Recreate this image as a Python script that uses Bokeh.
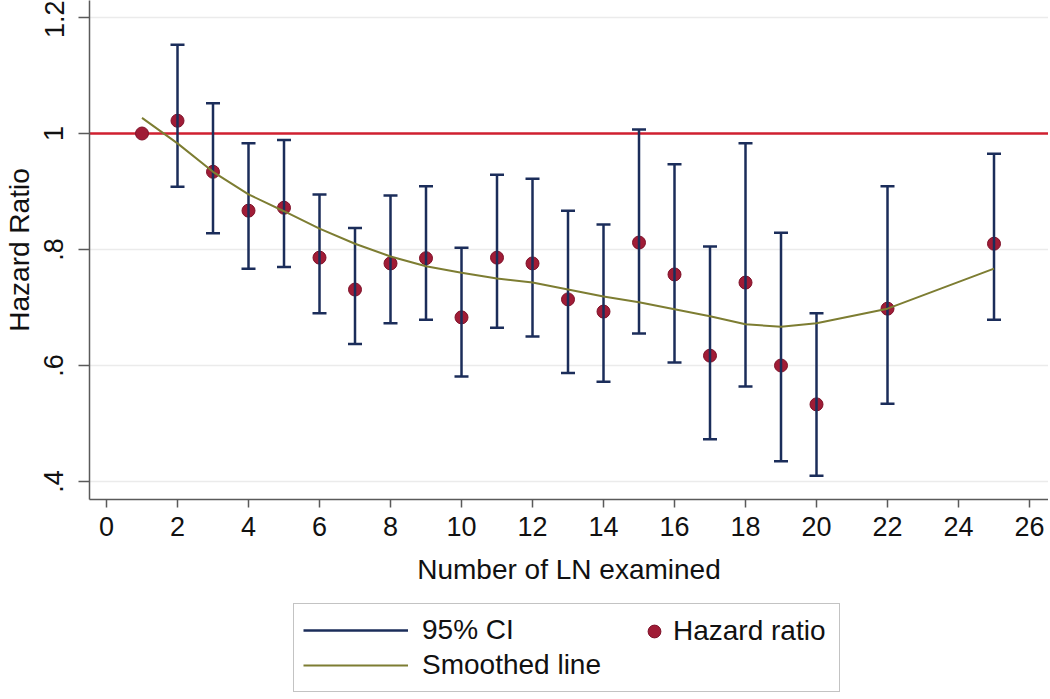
import math
from bokeh.plotting import figure
from bokeh.layouts import column
from bokeh.models import (ColumnDataSource, Legend, LegendItem, FixedTicker,
                          Span, Range1d)
from bokeh.embed import file_html
from bokeh.resources import INLINE

# ---- data ----
ln_examined = [1, 2, 3, 4, 5, 6, 7, 8, 9, 10, 11, 12, 13, 14, 15, 16, 17, 18, 19, 20, 22, 25]
hazard_ratio = [1.000, 1.022, 0.934, 0.867, 0.872, 0.786, 0.731, 0.776, 0.785, 0.683, 0.786,
                0.776, 0.714, 0.693, 0.812, 0.757, 0.617, 0.743, 0.600, 0.533, 0.698, 0.810]
ci_low = [None, 0.908, 0.828, 0.767, 0.770, 0.690, 0.637, 0.673, 0.679, 0.581, 0.665,
          0.650, 0.587, 0.572, 0.655, 0.605, 0.473, 0.564, 0.435, 0.410, 0.534, 0.679]
ci_high = [None, 1.153, 1.052, 0.983, 0.989, 0.895, 0.837, 0.893, 0.909, 0.803, 0.929,
           0.922, 0.867, 0.843, 1.007, 0.947, 0.805, 0.983, 0.829, 0.690, 0.909, 0.965]
smoothed = [1.027, 0.983, 0.934, 0.895, 0.866, 0.836, 0.810, 0.788, 0.771, 0.760, 0.750,
            0.743, 0.731, 0.719, 0.709, 0.697, 0.685, 0.671, 0.667, 0.673, 0.698, 0.767]
x_ticks = list(range(0, 27, 2))
y_ticks = [0.4, 0.6, 0.8, 1.0, 1.2]
y_tick_labels = [".4", ".6", ".8", "1", "1.2"]
reference_hr = 1.0

FONT = "Liberation Sans"
CI_COLOR = "#1b2d5a"
PT_COLOR = "#a01c36"
PT_EDGE = "#7e1129"
REF_COLOR = "#d02030"
SMOOTH_COLOR = "#7d7d32"
TEXT_COLOR = "#111111"

ci_idx = [i for i, v in enumerate(ci_low) if v is not None]
ci_src = ColumnDataSource(dict(
    x=[ln_examined[i] for i in ci_idx],
    lo=[ci_low[i] for i in ci_idx],
    hi=[ci_high[i] for i in ci_idx],
))
pt_src = ColumnDataSource(dict(x=ln_examined, y=hazard_ratio))
sm_src = ColumnDataSource(dict(x=ln_examined, y=smoothed))

# ---------------- main chart ----------------
p = figure(width=1048, height=596, output_backend="svg", toolbar_location=None,
           x_range=Range1d(-0.479, 26.535), y_range=Range1d(0.369, 1.2293),
           min_border_left=89, min_border_right=0, min_border_top=0, min_border_bottom=97)
p.outline_line_color = None
p.background_fill_color = "white"

p.add_layout(Span(location=reference_hr, dimension="width", line_color=REF_COLOR,
                  line_width=2.5, level="underlay"))

p.scatter("x", "y", source=pt_src, size=13, fill_color=PT_COLOR,
          line_color=PT_EDGE, line_width=1)
p.segment(x0="x", y0="lo", x1="x", y1="hi", source=ci_src,
          line_color=CI_COLOR, line_width=2.5)
p.scatter("x", "lo", source=ci_src, marker="dash", size=14, line_color=CI_COLOR, line_width=2.5)
p.scatter("x", "hi", source=ci_src, marker="dash", size=14, line_color=CI_COLOR, line_width=2.5)
p.line("x", "y", source=sm_src, line_color=SMOOTH_COLOR, line_width=2)

p.xaxis.ticker = FixedTicker(ticks=x_ticks)
p.yaxis.ticker = FixedTicker(ticks=y_ticks)
p.yaxis.major_label_overrides = {t: l for t, l in zip(y_ticks, y_tick_labels)}
p.yaxis.major_label_orientation = "parallel"
for ax in (p.xaxis, p.yaxis):
    ax.axis_line_color = "#5a5a5a"
    ax.axis_line_width = 1.5
    ax.major_tick_line_color = "#5a5a5a"
    ax.major_tick_line_width = 1.5
    ax.major_tick_in = 0
    ax.minor_tick_line_color = None
    ax.major_label_text_font = FONT
    ax.major_label_text_font_size = "27px"
    ax.major_label_text_color = TEXT_COLOR
    ax.axis_label_text_font = FONT
    ax.axis_label_text_font_size = "28px"
    ax.axis_label_text_font_style = "normal"
    ax.axis_label_text_color = TEXT_COLOR
p.xaxis.major_tick_out = 8
p.yaxis.major_tick_out = 11
p.xaxis.major_label_standoff = 9
p.yaxis.major_label_standoff = 15
p.xaxis.axis_label = "Number of LN examined"
p.yaxis.axis_label = "Hazard Ratio"
p.xaxis.axis_label_standoff = 15
p.yaxis.axis_label_standoff = 7

p.xgrid.grid_line_color = None
p.ygrid.ticker = FixedTicker(ticks=y_ticks)
p.ygrid.grid_line_color = "#ebebeb"
p.ygrid.grid_line_width = 1.5

# ---------------- legend panel ----------------
# the key glyphs share the chart's sources but the panel's ranges keep them out of view
lg = figure(width=1048, height=101, output_backend="svg", toolbar_location=None,
            x_range=Range1d(1000, 1001), y_range=Range1d(1000, 1001),
            x_axis_type=None, y_axis_type=None, min_border=0)
lg.outline_line_color = None
lg.grid.visible = False

ci_key = lg.segment(x0="x", y0="lo", x1="x", y1="hi", source=ci_src,
                    line_color=CI_COLOR, line_width=2.5)
sm_key = lg.line("x", "y", source=sm_src, line_color=SMOOTH_COLOR, line_width=2)
hr_key = lg.scatter("x", "y", source=pt_src, size=13, fill_color=PT_COLOR,
                    line_color=PT_EDGE, line_width=1)

legend1 = Legend(items=[LegendItem(label="95% CI", renderers=[ci_key]),
                        LegendItem(label="Smoothed line", renderers=[sm_key])],
                 location=(204, 5), orientation="vertical",
                 glyph_width=105, glyph_height=34, label_height=34, label_width=408,
                 label_standoff=14, padding=9, spacing=1, margin=0,
                 border_line_color="#888888", border_line_width=1.5,
                 background_fill_color="white", background_fill_alpha=1,
                 label_text_font=FONT, label_text_font_size="28px",
                 label_text_color=TEXT_COLOR)
legend2 = Legend(items=[LegendItem(label="Hazard ratio", renderers=[hr_key])],
                 location=(549, 50), orientation="vertical",
                 glyph_width=32, glyph_height=32, label_height=32,
                 label_standoff=3, padding=0, spacing=0, margin=0,
                 border_line_color=None, background_fill_alpha=0,
                 label_text_font=FONT, label_text_font_size="28px",
                 label_text_color=TEXT_COLOR)
lg.add_layout(legend1)
lg.add_layout(legend2)

layout = column(p, lg, spacing=0)
open("out.html", "w").write(file_html(layout, INLINE))
